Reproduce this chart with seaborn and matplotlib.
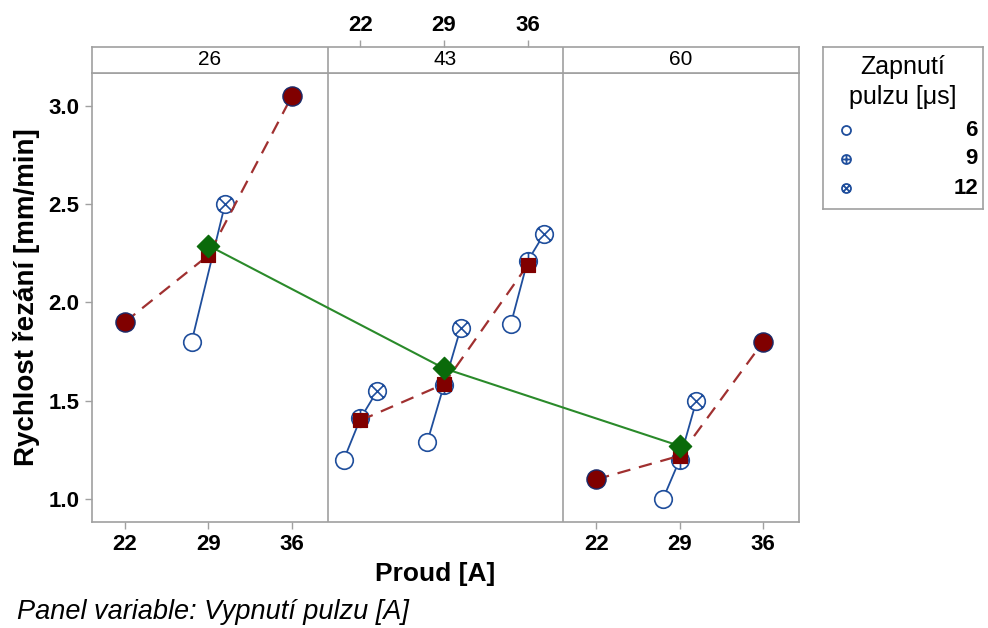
import matplotlib
matplotlib.use('Agg')
import matplotlib.pyplot as plt
import numpy as np
import pandas as pd
import seaborn as sns
from matplotlib.path import Path

sns.set_theme(style='white')
plt.rcParams['font.family'] = ['Liberation Sans', 'DejaVu Sans']
plt.rcParams['text.color'] = 'black'
plt.rcParams['axes.labelcolor'] = 'black'
plt.rcParams['xtick.color'] = 'black'
plt.rcParams['ytick.color'] = 'black'

# data
panels = [26, 43, 60]          # Vypnutí pulzu [A]
currents = [22, 29, 36]        # Proud [A]
pulses = [6, 9, 12]            # Zapnutí pulzu [µs]
nan = np.nan
speed_26 = [[nan, nan, nan], [1.80, nan, 2.50], [nan, nan, nan]]
speed_43 = [[1.20, 1.41, 1.55], [1.29, 1.58, 1.87], [1.89, 2.21, 2.35]]
speed_60 = [[nan, nan, nan], [1.00, 1.20, 1.50], [nan, nan, nan]]
mean_26 = [1.90, 2.24, 3.05]
mean_43 = [1.40, 1.585, 2.19]
mean_60 = [1.10, 1.22, 1.80]
panel_mean = [2.29, 1.665, 1.27]

blue = '#1f4e9c'
red = '#800000'
dash_red = '#a03030'
green = '#2a8a2a'
dgreen = '#0a6a0a'
grey = '#a0a0a0'

span = 19.75
x0 = 19.25
offset = {6: -1.4, 9: 0.0, 12: 1.4}

rows = []
for i, (p, tbl) in enumerate(zip(panels, [speed_26, speed_43, speed_60])):
    for j, c in enumerate(currents):
        for k, s in enumerate(pulses):
            rows.append(dict(panel=p, current=c, pulse=s, speed=tbl[j][k],
                             x=i * span + c + offset[s], grp=f'{p}-{c}'))
pts = pd.DataFrame(rows).dropna()

mrows = []
for i, (p, m) in enumerate(zip(panels, [mean_26, mean_43, mean_60])):
    for j, c in enumerate(currents):
        n = len(pts[(pts.panel == p) & (pts.current == c)])
        mrows.append(dict(panel=p, current=c, mean=m[j], x=i * span + c, single=n == 0))
means = pd.DataFrame(mrows)
pm = pd.DataFrame(dict(panel=panels, mean=panel_mean,
                       x=[i * span + 29 for i in range(3)]))

# marker shapes
circ = Path.unit_circle()
plus = Path([[-1, 0], [1, 0], [0, -1], [0, 1]],
            [Path.MOVETO, Path.LINETO, Path.MOVETO, Path.LINETO])
d = 0.7071
cross = Path([[-d, -d], [d, d], [-d, d], [d, -d]],
             [Path.MOVETO, Path.LINETO, Path.MOVETO, Path.LINETO])
mk = {6: circ, 9: Path.make_compound_path(circ, plus),
      12: Path.make_compound_path(circ, cross)}

fig = plt.figure(figsize=(9.88, 6.28), dpi=100)
ax = fig.add_axes([0.0931, 0.1688, 0.7156, 0.7150])
sax = fig.add_axes([0.0931, 0.8838, 0.7156, 0.0414])

sns.lineplot(data=pts, x='x', y='speed', units='grp', estimator=None,
             color=blue, lw=1.3, sort=True, ax=ax, zorder=2)
for s in pulses:
    sub = pts[pts.pulse == s]
    sns.scatterplot(data=sub, x='x', y='speed', marker=mk[s], s=160,
                    facecolor='white', edgecolor=blue, linewidth=1.2,
                    ax=ax, zorder=3, legend=False)

sns.lineplot(data=means, x='x', y='mean', units='panel', estimator=None,
             color=dash_red, lw=1.6, linestyle=(0, (6, 4)), ax=ax, zorder=4)
sns.scatterplot(data=means[~means.single], x='x', y='mean', marker='s', s=110,
                color=red, edgecolor=red, ax=ax, zorder=5, legend=False)
sns.scatterplot(data=means[means.single], x='x', y='mean', marker='o', s=190,
                color=red, edgecolor='#1a2a6a', linewidth=1.0, ax=ax, zorder=5,
                legend=False)

sns.lineplot(data=pm, x='x', y='mean', color=green, lw=1.5, ax=ax, zorder=6)
sns.scatterplot(data=pm, x='x', y='mean', marker='D', s=130, color=dgreen,
                edgecolor=dgreen, ax=ax, zorder=7, legend=False)

xmax = x0 + 3 * span
for a in (ax, sax):
    a.set_xlim(x0, xmax)
    for b in (1, 2):
        a.axvline(x0 + b * span, color=grey, lw=1.2)
    for sp in a.spines.values():
        sp.set_color(grey)
        sp.set_linewidth(1.2)

ax.set_ylim(0.883, 3.168)
ax.set_yticks([1.0, 1.5, 2.0, 2.5, 3.0])
ax.set_yticklabels(['1.0', '1.5', '2.0', '2.5', '3.0'])
bt = [c for c in currents] + [2 * span + c for c in currents]
ax.set_xticks(bt)
ax.set_xticklabels([str(c) for c in currents] * 2)
ax.tick_params(axis='both', direction='out', length=5, width=1, color=grey,
               labelsize=16, pad=4, bottom=True, left=True)
for lab in ax.get_xticklabels() + ax.get_yticklabels():
    lab.set_fontweight('bold')
ax.set_xlabel('Proud [A]', fontsize=19, fontweight='bold')
ax.set_ylabel('Rychlost řezání [mm/min]', fontsize=20, fontweight='bold')
ax.xaxis.set_label_coords(0.486, -0.09)
ax.yaxis.set_label_coords(-0.074, 0.5)

sax.set_ylim(0, 1)
sax.set_yticks([])
sax.xaxis.tick_top()
sax.set_xticks([span + c for c in currents])
sax.set_xticklabels([str(c) for c in currents])
sax.tick_params(axis='x', direction='out', length=5, width=1, color=grey,
                labelsize=16, pad=3, top=True, bottom=False)
for lab in sax.get_xticklabels():
    lab.set_fontweight('bold')
for i, p in enumerate(panels):
    sax.text(x0 + span * (i + 0.5), 0.5, str(p), ha='center', va='center',
             fontsize=15)

# legend box
lax = fig.add_axes([823 / 988, 1 - 209 / 628, 160 / 988, 162 / 628])
lax.set_xlim(0, 160)
lax.set_ylim(162, 0)
lax.set_xticks([])
lax.set_yticks([])
for sp in lax.spines.values():
    sp.set_color(grey)
    sp.set_linewidth(1.2)
lax.text(80, 20, 'Zapnutí', ha='center', va='center', fontsize=18)
lax.text(80, 50, 'pulzu [μs]', ha='center', va='center', fontsize=18)
for k, s in enumerate(pulses):
    y = 83 + 29 * k
    lax.scatter([23], [y], marker=mk[s], s=42, facecolor='white',
                edgecolor=blue, linewidth=1.3)
    lax.text(155, y, str(s), ha='right', va='center', fontsize=16,
             fontweight='bold')

fig.text(17 / 988, 1 - 612 / 628, 'Panel variable: Vypnutí pulzu [A]',
         fontsize=19.5, style='italic', va='center', ha='left')

fig.savefig('out.png', dpi=100)
